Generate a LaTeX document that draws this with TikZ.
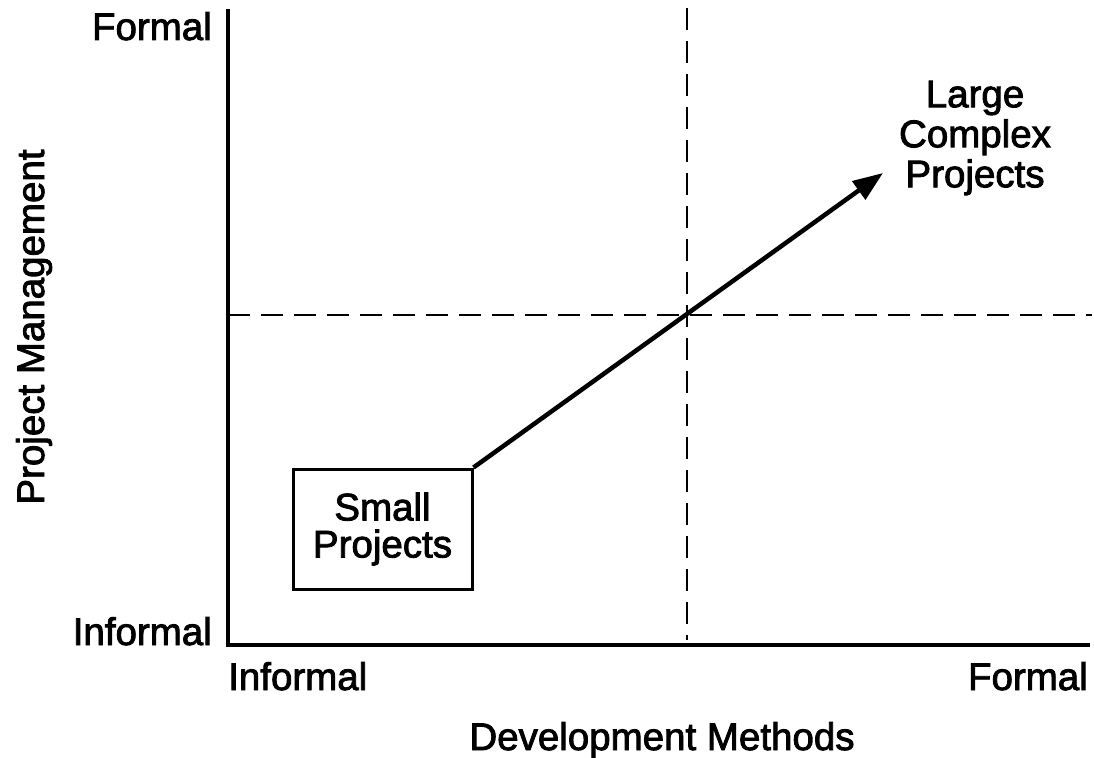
\documentclass[tikz,border=0pt]{standalone}
\usepackage{fontspec}
\setmainfont{Liberation Sans}[FakeBold=2.2]
\usetikzlibrary{arrows.meta}
\begin{document}
\begin{tikzpicture}[x=1pt,y=-1pt,
  lbl/.style={font=\fontsize{38.5}{40}\selectfont, inner sep=0pt, align=center},
  axisline/.style={line width=3.2pt},
  guide/.style={line width=2.8pt, dash pattern=on 22pt off 11pt},
  boxnode/.style={draw, line width=3pt, minimum width=179pt, minimum height=120pt, inner sep=0pt, align=center, font=\fontsize{38.5}{37}\selectfont},
  arrowline/.style={line width=4.5pt, -{Triangle[length=30pt,width=22pt]}}]
\useasboundingbox (0,0) rectangle (1094,757);
% axes
\coordinate (ytop) at (228,9);
\coordinate (origin) at (228,645);
\coordinate (xend) at (1090,645);
\draw[axisline] (ytop) -- (origin) -- (xend);
% dashed guides
\coordinate (vtop) at (687,8);
\coordinate (vbot) at (687,640);
\coordinate (hl) at (228,315);
\coordinate (hr) at (1092,315);
\draw[guide] (vtop) -- (vbot);
\draw[guide] (hl) -- (hr);
% labels
\node[lbl, anchor=base east] (yformal) at (212,40) {Formal};
\node[lbl, anchor=base east] (yinformal) at (212,645) {Informal};
\node[lbl, anchor=base west] (xinformal) at (228,690) {Informal};
\node[lbl, anchor=base east] (xformal) at (1088,690) {Formal};
\node[lbl, anchor=base] (xtitle) at (662,750) {Development Methods};
\node[lbl, anchor=base, rotate=90] (ytitle) at (44,327) {Project Management};
% boxes
\node[boxnode] (small) at (382.5,529) {Small\\Projects};
\node[lbl] (large) at (975,138) {Large\\Complex\\Projects};
\coordinate (tip) at (883,173);
\draw[arrowline] (small.north east) -- (tip);
\end{tikzpicture}
\end{document}
